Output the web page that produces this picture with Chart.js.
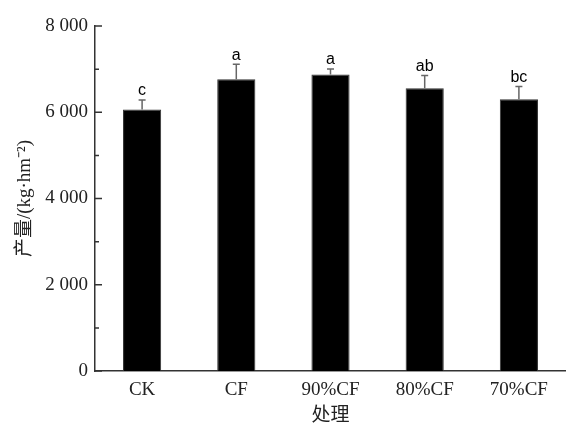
<!DOCTYPE html>
<html>
<head>
<meta charset="utf-8">
<script src="https://cdn.jsdelivr.net/npm/chart.js@4"></script>
<style>
  html, body { margin: 0; padding: 0; background: #fff; }
  canvas { display: block; }
</style>
</head>
<body>
<canvas id="yieldChart" width="566" height="423"></canvas>
<script>
/* === DATA === */
const treatments = ['CK', 'CF', '90%CF', '80%CF', '70%CF'];
const yieldMeans = [6063, 6765, 6874, 6557, 6300];
const yieldErrors = [223, 348, 130, 293, 296];
const sigLetters = ['c', 'a', 'a', 'ab', 'bc'];
const yTickValues = [0, 2000, 4000, 6000, 8000];
const yTickLabels = ['0', '2 000', '4 000', '6 000', '8 000'];
const yMinorTicks = [1000, 3000, 5000, 7000];

const SERIF = "'Liberation Serif', 'Times New Roman', 'Noto Sans CJK SC', serif";
const AXIS_COLOR = '#333';

/* === ERROR BARS + LETTERS + INWARD TICKS === */
const extrasPlugin = {
    id: 'extras',
    afterDatasetsDraw(chart) {
        const ctx = chart.ctx;
        const meta = chart.getDatasetMeta(0);
        const y = chart.scales.y;
        ctx.save();
        meta.data.forEach((bar, i) => {
            const top = y.getPixelForValue(yieldMeans[i] + yieldErrors[i]);
            const base = y.getPixelForValue(yieldMeans[i]);
            ctx.strokeStyle = '#666';
            ctx.lineWidth = 1.5;
            ctx.beginPath();
            ctx.moveTo(bar.x, base);
            ctx.lineTo(bar.x, top);
            ctx.moveTo(bar.x - 3.5, top);
            ctx.lineTo(bar.x + 3.5, top);
            ctx.stroke();

            ctx.fillStyle = '#000';
            ctx.font = "16px 'Liberation Sans', Arial, sans-serif";
            ctx.textAlign = 'center';
            ctx.textBaseline = 'alphabetic';
            ctx.fillText(sigLetters[i], bar.x, top - 4.5);
        });

        // inward ticks on the y axis
        const left = chart.chartArea.left;
        ctx.strokeStyle = AXIS_COLOR;
        ctx.lineWidth = 1.5;
        ctx.beginPath();
        yTickValues.forEach(v => {
            const py = y.getPixelForValue(v);
            ctx.moveTo(left, py);
            ctx.lineTo(left + 7, py);
        });
        yMinorTicks.forEach(v => {
            const py = y.getPixelForValue(v);
            ctx.moveTo(left, py);
            ctx.lineTo(left + 4, py);
        });
        ctx.stroke();
        ctx.restore();
    }
};

new Chart(document.getElementById('yieldChart'), {
    type: 'bar',
    data: {
        labels: treatments,
        datasets: [{
            data: yieldMeans,
            backgroundColor: '#000',
            borderColor: '#333',
            borderWidth: 1,
            categoryPercentage: 1,
            barPercentage: 0.405
        }]
    },
    options: {
        responsive: false,
        animation: false,
        events: [],
        layout: { padding: { top: 26, left: 0, right: 0, bottom: 0 } },
        plugins: {
            legend: { display: false },
            tooltip: { enabled: false }
        },
        scales: {
            x: {
                grid: { display: false, drawTicks: false },
                border: { display: true, color: AXIS_COLOR, width: 1.5 },
                ticks: { color: '#222', padding: 8, font: { family: SERIF, size: 19 } },
                title: {
                    display: true,
                    text: '处理',
                    color: '#222',
                    padding: { top: 0, bottom: -3 },
                    font: { family: SERIF, size: 19, lineHeight: 1 }
                },
                afterFit(scale) { scale.height = 52; }
            },
            y: {
                min: 0,
                max: 8000,
                afterBuildTicks(scale) {
                    scale.ticks = yTickValues.map(v => ({ value: v }));
                },
                grid: { display: false, drawTicks: false },
                border: { display: true, color: AXIS_COLOR, width: 1.5 },
                ticks: {
                    color: '#222',
                    padding: 7,
                    font: { family: SERIF, size: 19 },
                    callback: v => yTickLabels[yTickValues.indexOf(v)]
                },
                title: {
                    display: true,
                    text: '产量/(kg·hm⁻²)',
                    color: '#222',
                    padding: { top: 14, bottom: 0 },
                    font: { family: SERIF, size: 19 }
                },
                afterFit(scale) { scale.width = 95; }
            }
        }
    },
    plugins: [extrasPlugin]
});
</script>
</body>
</html>
